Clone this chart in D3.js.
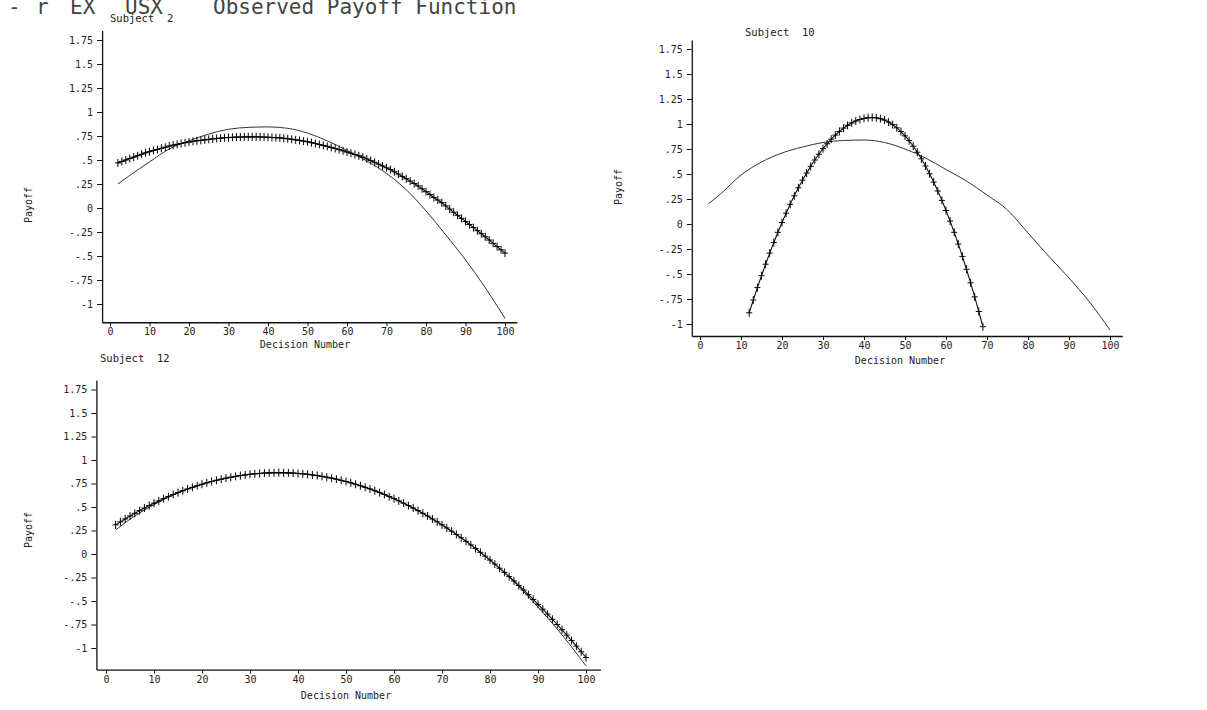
<!DOCTYPE html>
<html>
<head>
<meta charset="utf-8">
<script src="https://cdn.jsdelivr.net/npm/d3@7/dist/d3.min.js"></script>
<style>
  body { margin: 0; background: #fff; }
  svg { display: block; }
  text { font-family: "DejaVu Sans Mono", "Liberation Mono", monospace; fill: #222; }
</style>
</head>
<body>
<div id="chart"></div>
<script>
var width = 1207;
var height = 710;

// tick values and labels shared by the three panels
var decisionTicks = [0, 10, 20, 30, 40, 50, 60, 70, 80, 90, 100];
var payoffTicks = [1.75, 1.5, 1.25, 1, 0.75, 0.5, 0.25, 0, -0.25, -0.5, -0.75, -1];
var payoffLabels = ['1.75', '1.5', '1.25', '1', '.75', '.5', '.25', '0', '-.25', '-.5', '-.75', '-1'];

// pieces of the figure caption that survive at the top edge of the scan
var captionParts = ['-', 'r', 'EX', 'USX', 'Observed Payoff Function'];
var captionX = [8, 36, 70, 125, 213];

// decisions at which the smooth (fitted) curves were read
var curveDecisions = [2, 5, 10, 15, 20, 25, 30, 35, 40, 45, 50, 55, 60, 65, 70, 75, 80, 85, 90, 95, 100];

// Subject 2
var s2Curve = [0.25, 0.34, 0.48, 0.615, 0.70, 0.77, 0.82, 0.84, 0.845, 0.83, 0.78, 0.70, 0.60, 0.49, 0.36, 0.19, -0.03, -0.28, -0.54, -0.83, -1.15];
var s2FirstDecision = 2;
var s2Observed = [
  0.47, 0.485, 0.50, 0.515, 0.53, 0.545, 0.56, 0.575, 0.587, 0.60,
  0.61, 0.622, 0.633, 0.645, 0.655, 0.663, 0.672, 0.68, 0.687, 0.694,
  0.70, 0.705, 0.71, 0.715, 0.72, 0.724, 0.728, 0.731, 0.734, 0.736,
  0.738, 0.739, 0.74, 0.741, 0.741, 0.741, 0.74, 0.739, 0.737, 0.735,
  0.733, 0.73, 0.726, 0.721, 0.716, 0.71, 0.704, 0.697, 0.69, 0.681,
  0.672, 0.662, 0.652, 0.642, 0.631, 0.62, 0.608, 0.596, 0.583, 0.57,
  0.557, 0.544, 0.53, 0.512, 0.494, 0.476, 0.457, 0.438, 0.419, 0.40,
  0.377, 0.353, 0.329, 0.305, 0.28, 0.255, 0.23, 0.20, 0.17, 0.14,
  0.11, 0.083, 0.055, 0.022, -0.011, -0.044, -0.076, -0.108, -0.14, -0.172,
  -0.204, -0.236, -0.268, -0.30, -0.334, -0.368, -0.402, -0.436, -0.47
];

// Subject 10
var s10Curve = [0.20, 0.30, 0.49, 0.62, 0.71, 0.77, 0.815, 0.835, 0.84, 0.815, 0.75, 0.66, 0.545, 0.43, 0.29, 0.14, -0.09, -0.32, -0.54, -0.78, -1.06];
var s10FirstDecision = 12;
var s10Observed = [
  -0.888, -0.76, -0.636, -0.517, -0.402, -0.291, -0.185, -0.083, 0.015, 0.108,
  0.197, 0.282, 0.362, 0.438, 0.509, 0.577, 0.64, 0.698, 0.753, 0.802,
  0.848, 0.889, 0.926, 0.959, 0.987, 1.011, 1.03, 1.045, 1.056, 1.063,
  1.065, 1.062, 1.053, 1.039, 1.019, 0.993, 0.962, 0.924, 0.881, 0.833,
  0.778, 0.718, 0.652, 0.58, 0.502, 0.419, 0.33, 0.236, 0.135, 0.029,
  -0.083, -0.201, -0.324, -0.453, -0.588, -0.729, -0.875, -1.027
];

// Subject 12
var s12Curve = [0.255, 0.37, 0.525, 0.65, 0.742, 0.807, 0.848, 0.864, 0.857, 0.826, 0.771, 0.692, 0.589, 0.461, 0.31, 0.135, -0.066, -0.295, -0.565, -0.86, -1.19];
var s12FirstDecision = 2;
var s12Observed = [
  0.31, 0.342, 0.373, 0.404, 0.433, 0.461, 0.489, 0.515, 0.541, 0.565,
  0.589, 0.611, 0.633, 0.653, 0.673, 0.692, 0.709, 0.726, 0.742, 0.757,
  0.771, 0.784, 0.796, 0.807, 0.817, 0.826, 0.834, 0.841, 0.848, 0.853,
  0.857, 0.861, 0.863, 0.864, 0.865, 0.864, 0.863, 0.861, 0.857, 0.853,
  0.848, 0.841, 0.834, 0.826, 0.817, 0.807, 0.796, 0.784, 0.771, 0.757,
  0.742, 0.726, 0.709, 0.692, 0.673, 0.653, 0.633, 0.611, 0.589, 0.565,
  0.541, 0.515, 0.489, 0.461, 0.433, 0.404, 0.373, 0.342, 0.31, 0.277,
  0.243, 0.208, 0.172, 0.135, 0.097, 0.058, 0.018, -0.023, -0.064, -0.107,
  -0.151, -0.195, -0.241, -0.287, -0.335, -0.383, -0.433, -0.483, -0.535, -0.587,
  -0.64, -0.695, -0.75, -0.806, -0.863, -0.921, -0.98, -1.04, -1.101
];

var panels = [
  {
    title: 'Subject 2', curve: s2Curve, observed: s2Observed, first: s2FirstDecision,
    x0: 110, x100: 505, yZero: 208, yPerUnit: 96, yMin: -1.19, yMax: 1.85,
    titleX: 110, titleY: 22, payoffX: 32, payoffY: 205, labelX: 305, labelY: 348
  },
  {
    title: 'Subject 10', curve: s10Curve, observed: s10Observed, first: s10FirstDecision,
    x0: 700, x100: 1110, yZero: 224, yPerUnit: 100, yMin: -1.12, yMax: 1.84,
    titleX: 745, titleY: 36, payoffX: 622, payoffY: 187, labelX: 900, labelY: 364
  },
  {
    title: 'Subject 12', curve: s12Curve, observed: s12Observed, first: s12FirstDecision,
    x0: 106, x100: 586, yZero: 554, yPerUnit: 94, yMin: -1.23, yMax: 1.85,
    titleX: 100, titleY: 362, payoffX: 32, payoffY: 530, labelX: 346, labelY: 699
  }
];

var svg = d3.select('#chart')
  .append('svg')
  .attr('width', width)
  .attr('height', height);

// figure caption, its top cut off by the edge of the scan
svg.selectAll('.caption')
  .data(captionParts)
  .enter()
  .append('text')
  .attr('class', 'caption')
  .attr('x', function(d, i) { return captionX[i]; })
  .attr('y', 14)
  .style('font-size', '21px')
  .style('fill', '#444')
  .text(function(d) { return d; });

var plus = 'M-3,0H3M0,-4V4';

panels.forEach(function(p) {
  var perDecision = (p.x100 - p.x0) / 100;
  var x = d3.scaleLinear()
    .domain([-2, 103])
    .range([p.x0 - 2 * perDecision, p.x0 + 103 * perDecision]);
  var y = d3.scaleLinear()
    .domain([p.yMin, p.yMax])
    .range([p.yZero - p.yMin * p.yPerUnit, p.yZero - p.yMax * p.yPerUnit]);

  var g = svg.append('g');

  g.append('g')
    .attr('transform', 'translate(' + x(-2) + ',0)')
    .call(d3.axisLeft(y)
      .tickValues(payoffTicks)
      .tickSize(5)
      .tickSizeOuter(0)
      .tickPadding(4)
      .tickFormat(function(d, i) { return payoffLabels[i]; }));

  g.append('g')
    .attr('transform', 'translate(0,' + y(p.yMin) + ')')
    .call(d3.axisBottom(x)
      .tickValues(decisionTicks)
      .tickSize(4)
      .tickSizeOuter(0)
      .tickPadding(2));

  g.selectAll('.domain').attr('stroke', '#111').attr('stroke-width', 1.3);
  g.selectAll('.tick line').attr('stroke', '#111');
  g.selectAll('.tick text')
    .style('font-size', '10px')
    .style('font-family', '"DejaVu Sans Mono", monospace')
    .attr('fill', '#222');

  g.append('text')
    .attr('x', p.titleX)
    .attr('y', p.titleY)
    .style('font-size', '10.5px')
    .attr('xml:space', 'preserve')
    .text(p.title.replace(' ', '  '));

  g.append('text')
    .attr('transform', 'translate(' + p.payoffX + ',' + p.payoffY + ') rotate(-90)')
    .attr('text-anchor', 'middle')
    .style('font-size', '10px')
    .text('Payoff');

  g.append('text')
    .attr('x', p.labelX)
    .attr('y', p.labelY)
    .attr('text-anchor', 'middle')
    .style('font-size', '10px')
    .text('Decision Number');

  // smooth fitted curve
  var curvePoints = curveDecisions.map(function(d, i) { return [d, p.curve[i]]; });
  g.append('path')
    .datum(curvePoints)
    .attr('fill', 'none')
    .attr('stroke', '#333')
    .attr('stroke-width', 1)
    .attr('d', d3.line()
      .x(function(d) { return x(d[0]); })
      .y(function(d) { return y(d[1]); })
      .curve(d3.curveMonotoneX));

  // observed payoffs, one cross per decision, joined by a line
  var obsPoints = p.observed.map(function(v, i) { return [p.first + i, v]; });
  g.append('path')
    .datum(obsPoints)
    .attr('fill', 'none')
    .attr('stroke', '#111')
    .attr('stroke-width', 1.1)
    .attr('d', d3.line()
      .x(function(d) { return x(d[0]); })
      .y(function(d) { return y(d[1]); }));

  g.selectAll('.cross')
    .data(obsPoints)
    .enter()
    .append('path')
    .attr('class', 'cross')
    .attr('d', plus)
    .attr('transform', function(d) { return 'translate(' + x(d[0]) + ',' + y(d[1]) + ')'; })
    .attr('stroke', '#000')
    .attr('stroke-width', 1)
    .attr('fill', 'none');
});
</script>
</body>
</html>
